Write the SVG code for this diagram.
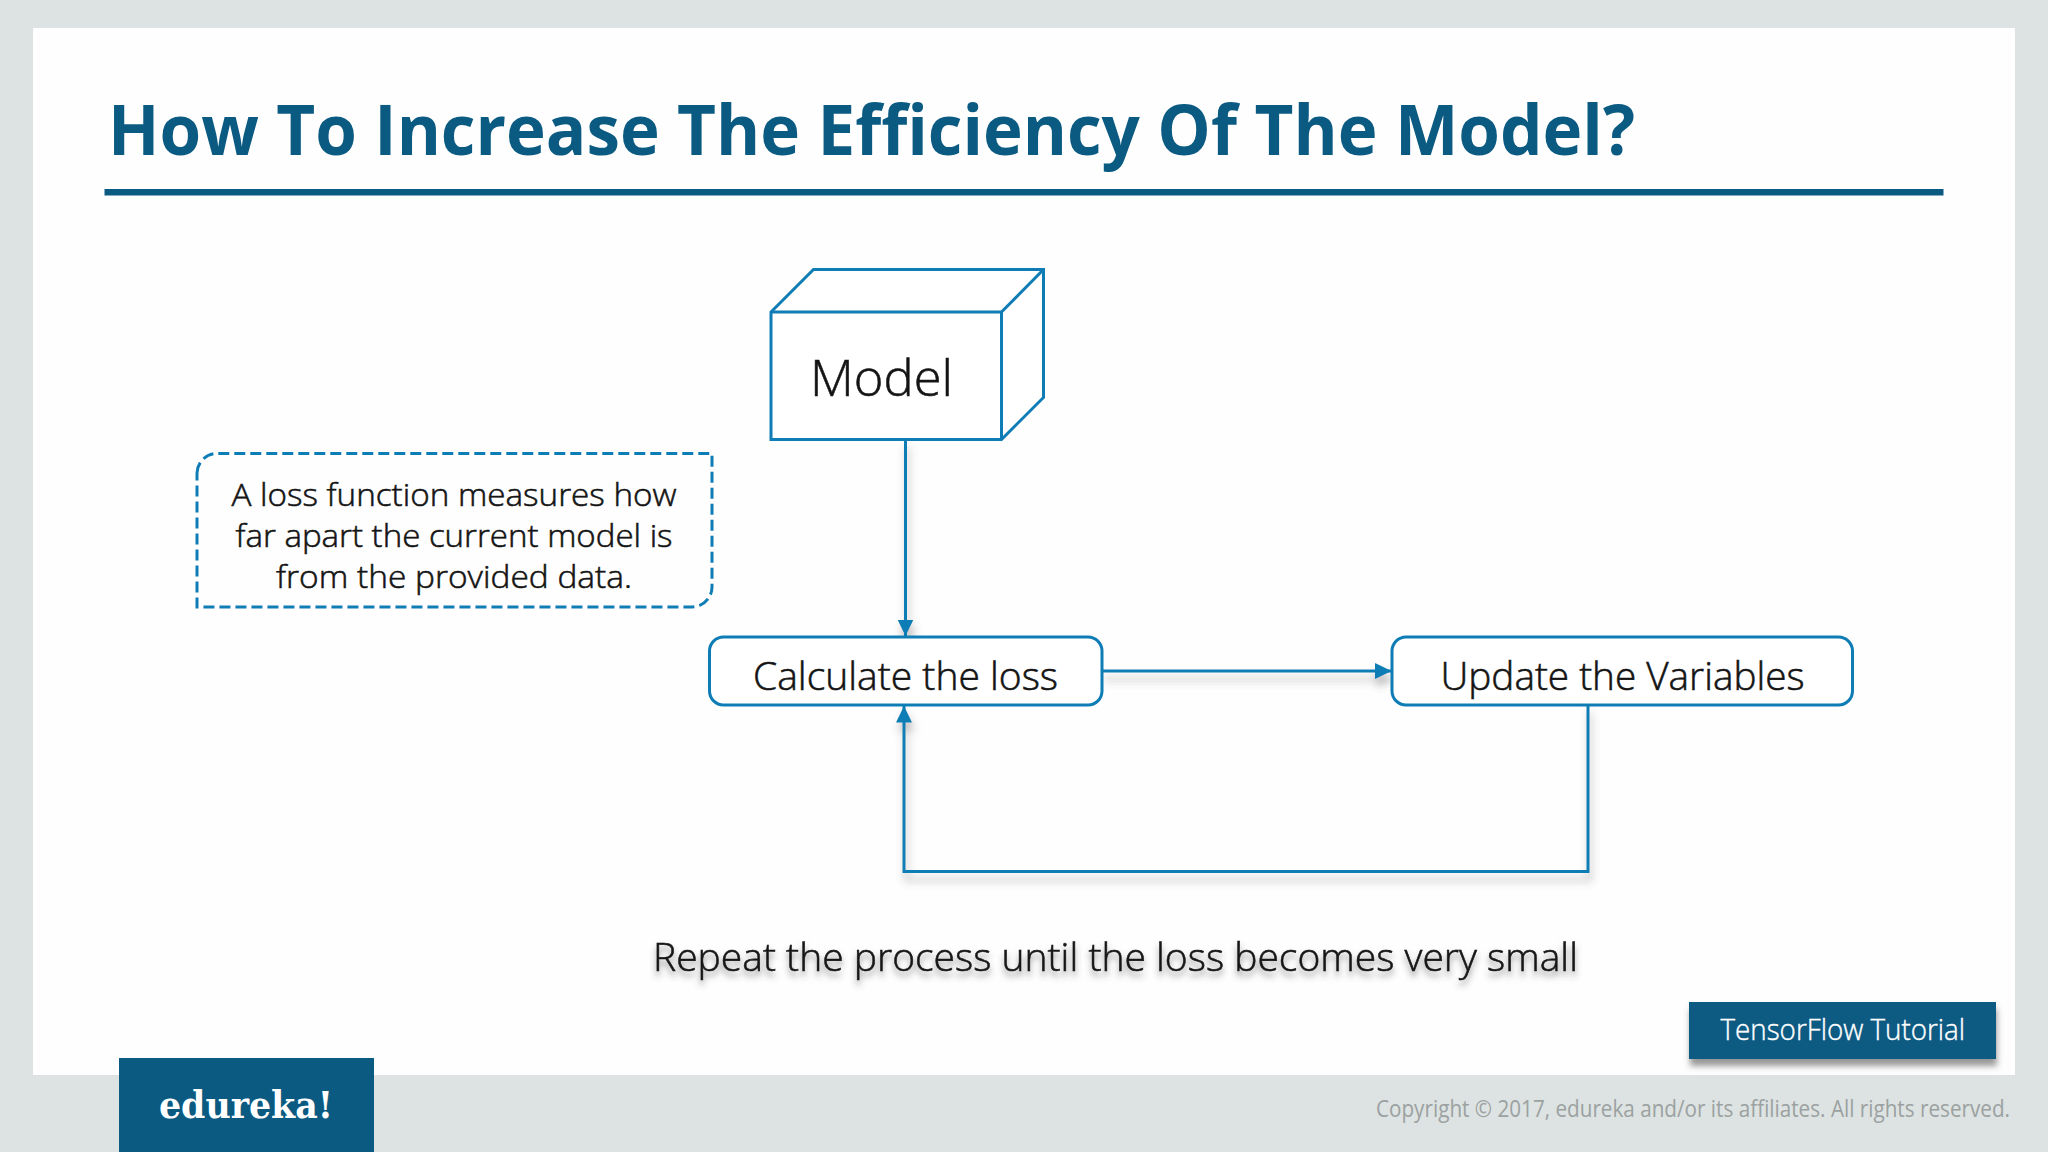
<svg xmlns="http://www.w3.org/2000/svg" width="2048" height="1152" viewBox="0 0 2048 1152">
<style>
text{font-family:"Open Sans","Noto Sans",sans-serif;fill:#141414}
.body{font-weight:300;stroke:#141414;stroke-width:.55}
.shape{fill:#fff;stroke:#0f7db5;stroke-width:3;stroke-linejoin:miter}
.edge{fill:none;stroke:#0f7db5;stroke-width:3}
.conn{fill:none;stroke:#0f7db5;stroke-width:3}
.brand{fill:#0a5a82}
</style>
<defs>
<marker id="arrow" markerUnits="userSpaceOnUse" markerWidth="17" markerHeight="17" refX="16.5" refY="8.5" orient="auto"><path d="M0 0.5L16.5 8.500L0 16.5Z" fill="#0f7db5"/></marker>
<filter id="connShadow" x="-10%" y="-10%" width="120%" height="120%"><feDropShadow dx="2" dy="8" stdDeviation="4" flood-color="#555" flood-opacity=".42"/></filter>
<filter id="textShadow" x="-5%" y="-30%" width="110%" height="170%"><feDropShadow dx="0" dy="5" stdDeviation="3" flood-color="#444" flood-opacity=".6"/></filter>
<filter id="badgeShadow" x="-10%" y="-20%" width="120%" height="150%"><feDropShadow dx="1" dy="7" stdDeviation="3" flood-color="#444" flood-opacity=".55"/></filter>
</defs>
<rect width="2048" height="1152" fill="#dde3e2"/>
<rect x="33" y="28" width="1982" height="1047" fill="#fefefe"/>
<g id="title">
<text x="108" y="155" font-size="69" font-weight="700" style="fill:#0a5a82" textLength="1527" lengthAdjust="spacingAndGlyphs">How To Increase The Efficiency Of The Model?</text>
<rect x="104.500" y="189" width="1839" height="6.500" class="brand"/>
</g>
<g id="connectors" filter="url(#connShadow)">
<path class="conn" d="M905.500 439V636" marker-end="url(#arrow)"/>
<path class="conn" d="M1102 671H1391.500" marker-end="url(#arrow)"/>
<path class="conn" d="M1588 705V871.500H904V706" marker-end="url(#arrow)"/>
</g>
<g id="model">
<path class="shape" d="M771 312L813.500 269.500H1043.500V397.500L1001.500 439.500H771Z"/>
<path class="edge" d="M771 312H1001.500V439.500M1001.500 312L1043.500 269.500"/>
<text class="body" x="810" y="396" font-size="50" textLength="143" lengthAdjust="spacingAndGlyphs">Model</text>
</g>
<g id="note">
<path d="M197 473A20 20 0 0 1 217 453.500H712V587A20 20 0 0 1 692 607H197Z" fill="none" stroke="#0f7db5" stroke-width="3" stroke-dasharray="11 5"/>
<text class="body" text-anchor="middle" x="454" y="506" font-size="32" textLength="445" lengthAdjust="spacingAndGlyphs">A loss function measures how</text>
<text class="body" text-anchor="middle" x="454" y="547" font-size="32" textLength="437" lengthAdjust="spacingAndGlyphs">far apart the current model is</text>
<text class="body" text-anchor="middle" x="454" y="588" font-size="32" textLength="356" lengthAdjust="spacingAndGlyphs">from the provided data.</text>
</g>
<g id="calculate">
<rect class="shape" x="709.500" y="637" width="392.500" height="68" rx="14"/>
<text class="body" x="753" y="689.500" font-size="38" textLength="305" lengthAdjust="spacingAndGlyphs">Calculate the loss</text>
</g>
<g id="update">
<rect class="shape" x="1392" y="637" width="460.500" height="68" rx="14"/>
<text class="body" x="1440.500" y="689.500" font-size="38" textLength="364" lengthAdjust="spacingAndGlyphs">Update the Variables</text>
</g>
<g id="caption">
<text class="body" x="653" y="970.500" font-size="38" textLength="925" lengthAdjust="spacingAndGlyphs" filter="url(#textShadow)">Repeat the process until the loss becomes very small</text>
</g>
<g id="logo">
<rect class="brand" x="119" y="1058" width="255" height="94"/>
<text x="159" y="1117.500" font-size="38" font-weight="700" style="font-family:'DejaVu Serif',serif;fill:#fff" textLength="174" lengthAdjust="spacingAndGlyphs">edureka!</text>
</g>
<g id="badge">
<rect class="brand" x="1689" y="1002" width="307" height="57" filter="url(#badgeShadow)"/>
<text x="1720.500" y="1040" font-size="29" font-weight="300" style="fill:#fff;stroke:#fff;stroke-width:.4" textLength="244.500" lengthAdjust="spacingAndGlyphs">TensorFlow Tutorial</text>
</g>
<g id="copyright">
<text x="1376" y="1117" font-size="23" style="fill:#9ba1a1" textLength="634" lengthAdjust="spacingAndGlyphs">Copyright © 2017, edureka and/or its affiliates. All rights reserved.</text>
</g>
</svg>
